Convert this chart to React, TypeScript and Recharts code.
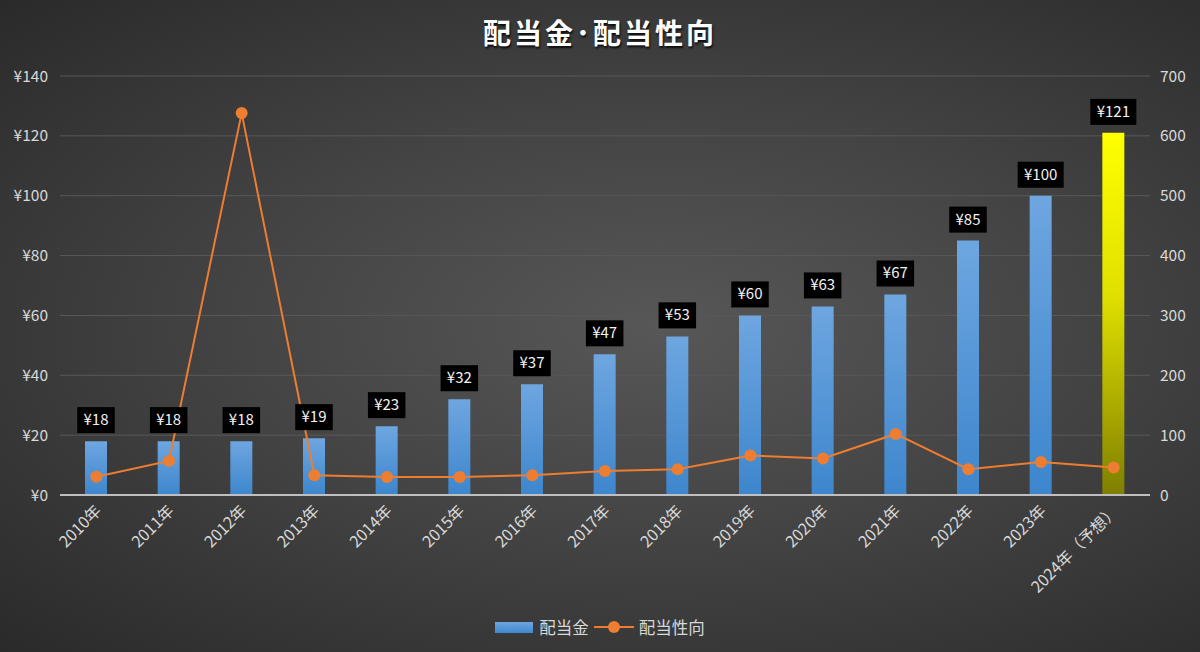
import React from 'react';
import {
  ComposedChart,
  Bar,
  Line,
  Cell,
  XAxis,
  YAxis,
  CartesianGrid,
  Legend,
  LabelList,
} from 'recharts';

const years = [
  '2010年', '2011年', '2012年', '2013年', '2014年', '2015年', '2016年', '2017年',
  '2018年', '2019年', '2020年', '2021年', '2022年', '2023年', '2024年（予想）',
];
const dividends = [18, 18, 18, 19, 23, 32, 37, 47, 53, 60, 63, 67, 85, 100, 121];
const payoutRatio = [30.5, 57, 638, 33, 30, 30, 33, 40, 43, 66, 61, 102, 43, 55, 46];
const leftTicks = [0, 20, 40, 60, 80, 100, 120, 140];
const rightTicks = [0, 100, 200, 300, 400, 500, 600, 700];

const data = years.map((year, i) => ({
  year,
  dividend: dividends[i],
  payout: payoutRatio[i],
}));

const FONT = '"Noto Sans CJK JP", "Noto Sans", sans-serif';
const ORANGE = '#ed7d31';

const PriceLabel = (props) => {
  const { x, y, width, value } = props;
  const text = `¥${value}`;
  const w = text.length * 8.5 + 12;
  const h = 26;
  const cx = x + width / 2;
  const top = y - 8 - h;
  return (
    <g>
      <rect x={cx - w / 2} y={top} width={w} height={h} fill="#000" />
      <text
        x={cx}
        y={top + h / 2 + 5}
        textAnchor="middle"
        fill="#f2f2f2"
        fontSize={15}
        fontFamily={FONT}
      >
        {text}
      </text>
    </g>
  );
};

const YearTick = ({ x, y, payload }) => (
  <g transform={`translate(${x + 6},${y + 9})`}>
    <text
      textAnchor="end"
      transform="rotate(-45)"
      fill="#d9d9d9"
      fontSize={16}
      fontFamily={FONT}
    >
      {payload.value}
    </text>
  </g>
);

const LegendContent = () => (
  <div
    style={{
      display: 'flex',
      justifyContent: 'center',
      alignItems: 'center',
      height: 24,
      color: '#d9d9d9',
      fontSize: 16.5,
      fontFamily: FONT,
    }}
  >
    <span
      style={{
        display: 'inline-block',
        width: 38,
        height: 11,
        background: 'linear-gradient(#6ea6e0, #3f88cf)',
        marginRight: 6,
      }}
    />
    <span>配当金</span>
    <svg width={40} height={14} style={{ marginLeft: 5, marginRight: 5 }}>
      <line x1={0} y1={7} x2={40} y2={7} stroke={ORANGE} strokeWidth={2} />
      <circle cx={20} cy={7} r={6} fill={ORANGE} />
    </svg>
    <span>配当性向</span>
  </div>
);

export default function App() {
  return (
    <div
      style={{
        position: 'absolute',
        left: 0,
        top: 0,
        width: 1200,
        height: 652,
        background:
          'radial-gradient(ellipse farthest-corner at 55% 50%, #575757 0%, #444444 45%, #2a2a2a 100%)',
        overflow: 'hidden',
      }}
    >
      <div
        style={{
          position: 'absolute',
          top: 12,
          left: 0,
          width: 1200,
          textAlign: 'center',
          color: '#ffffff',
          fontSize: 28,
          fontWeight: 'bold',
          letterSpacing: 3,
          fontFamily: FONT,
          textShadow: '1px 2px 2px rgba(0,0,0,0.8)',
        }}
      >
        配当金･配当性向
      </div>
      <ComposedChart
        width={1200}
        height={652}
        data={data}
        margin={{ top: 76, right: 0, left: 0, bottom: 13 }}
      >
        <defs>
          <linearGradient id="gradBlue" x1="0" y1="0" x2="0" y2="1">
            <stop offset="0%" stopColor="#6ea6e0" />
            <stop offset="100%" stopColor="#3d86cd" />
          </linearGradient>
          <linearGradient id="gradYellow" x1="0" y1="0" x2="0" y2="1">
            <stop offset="0%" stopColor="#ffff00" />
            <stop offset="45%" stopColor="#e0e000" />
            <stop offset="100%" stopColor="#7f7f00" />
          </linearGradient>
        </defs>
        <CartesianGrid yAxisId="left" vertical={false} stroke="#595959" />
        <XAxis
          dataKey="year"
          height={120}
          interval={0}
          tick={<YearTick />}
          tickLine={false}
          axisLine={{ stroke: '#bfbfbf', strokeWidth: 2 }}
        />
        <YAxis
          yAxisId="left"
          width={60}
          domain={[0, 140]}
          ticks={leftTicks}
          tickFormatter={(v) => `¥${v}`}
          axisLine={false}
          tickLine={false}
          tick={{ fill: '#d9d9d9', fontSize: 15.5, fontFamily: FONT, dx: -4 }}
        />
        <YAxis
          yAxisId="right"
          orientation="right"
          width={50}
          domain={[0, 700]}
          ticks={rightTicks}
          axisLine={false}
          tickLine={false}
          tick={{ fill: '#d9d9d9', fontSize: 15.5, fontFamily: FONT, dx: 2 }}
        />
        <Legend verticalAlign="bottom" content={<LegendContent />} />
        <Bar
          yAxisId="left"
          dataKey="dividend"
          name="配当金"
          barSize={22}
          fill="url(#gradBlue)"
          isAnimationActive={false}
        >
          {data.map((d, i) => (
            <Cell
              key={d.year}
              fill={i === data.length - 1 ? 'url(#gradYellow)' : 'url(#gradBlue)'}
            />
          ))}
          <LabelList dataKey="dividend" content={<PriceLabel />} />
        </Bar>
        <Line
          yAxisId="right"
          dataKey="payout"
          name="配当性向"
          stroke={ORANGE}
          strokeWidth={2}
          dot={{ r: 6, fill: ORANGE, stroke: ORANGE, strokeWidth: 0 }}
          activeDot={false}
          isAnimationActive={false}
        />
      </ComposedChart>
    </div>
  );
}
